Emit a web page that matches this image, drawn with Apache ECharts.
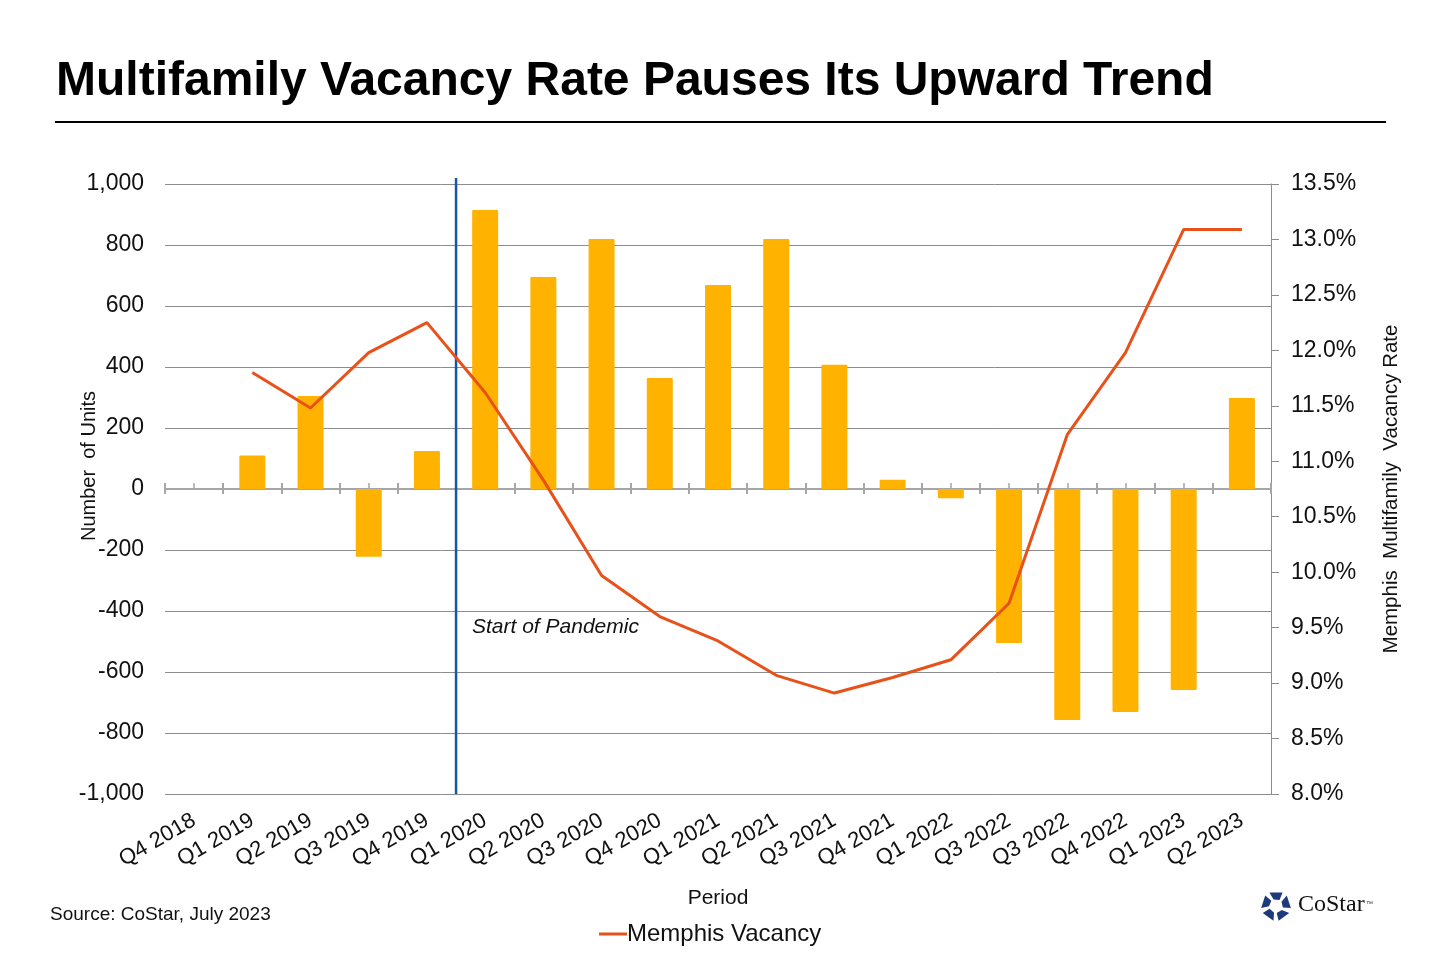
<!DOCTYPE html>
<html lang="en">
<head>
    <meta charset="UTF-8">
    <title>memphis-vacancy</title>
    <script src="https://cdn.jsdelivr.net/npm/echarts@6.0.0/dist/echarts.min.js"></script>
    <style>
        html, body { margin: 0; padding: 0; background: #fff; }
    </style>
</head>
<body>
<div id="main" style="width: 1440px;height:960px;"></div>
<script>
    // quarters as printed on the source chart (the second "Q3 2022" is in the original)
    var periods = ["Q4 2018", "Q1 2019", "Q2 2019", "Q3 2019", "Q4 2019", "Q1 2020", "Q2 2020", "Q3 2020",
        "Q4 2020", "Q1 2021", "Q2 2021", "Q3 2021", "Q4 2021", "Q1 2022", "Q3 2022", "Q3 2022",
        "Q4 2022", "Q1 2023", "Q2 2023"];
    // net absorption, units
    var units = [null, 110, 305, -222, 125, 915, 695, 820, 364, 669, 820, 407, 30, -30, -505, -757, -731, -659, 298];
    // vacancy rate, %
    var vacancy = [null, 11.80, 11.48, 11.98, 12.25, 11.62, 10.83, 9.97, 9.60, 9.38, 9.07, 8.91, 9.05, 9.21, 9.72, 11.24, 11.98, 13.09, 13.09];
    // pandemic marker sits on the boundary before Q1 2020
    var pandemicAt = 5;
    var pandemicLine = [[pandemicAt, -1000], [pandemicAt, 1020]];

    var FONT = "Liberation Sans, Arial, sans-serif";
    var GRID_H = 610;

    var chart = echarts.init(document.getElementById("main"));

    // little CoStar mark: five pieces around a centre
    var logoPieces = [];
    for (var k = 0; k < 5; k++) {
        var a = (-90 + 72 * k) * Math.PI / 180;
        var pts = [];
        [[15, -26], [15, 26], [7, 30], [7, -20]].forEach(function (p) {
            var ang = a + p[1] * Math.PI / 180;
            pts.push([1276 + p[0] * Math.cos(ang), 906 + p[0] * Math.sin(ang)]);
        });
        logoPieces.push({
            type: 'polygon',
            shape: {points: pts},
            style: {fill: '#1d3a7a'}
        });
    }

    var catAxisBase = {
        type: 'category',
        data: periods,
        gridIndex: 0,
        axisLabel: {show: false},
        splitLine: {show: false}
    };

    option = {
        backgroundColor: '#fff',
        animation: false,
        grid: {
            left: 165,
            right: 169,
            top: 184,
            bottom: 166,
            containLabel: false
        },
        legend: {
            data: ['Memphis Vacancy'],
            left: 594,
            top: 917,
            icon: 'rect',
            itemWidth: 28,
            itemHeight: 3,
            itemGap: 10,
            textStyle: {
                fontFamily: FONT,
                fontSize: 24,
                color: '#111',
                padding: [0, 0, 0, -5]
            }
        },
        graphic: [
            {
                type: 'text',
                left: 56,
                top: 58,
                style: {
                    text: 'Multifamily Vacancy Rate Pauses Its Upward Trend',
                    font: 'bold 48px ' + FONT,
                    fill: '#000'
                }
            },
            {
                type: 'line',
                shape: {x1: 55, y1: 122, x2: 1386, y2: 122},
                style: {stroke: '#000', lineWidth: 2}
            },
            {
                type: 'text',
                x: 89,
                y: 466,
                rotation: Math.PI / 2,
                style: {
                    text: 'Number  of Units',
                    font: '20px ' + FONT,
                    fill: '#111',
                    align: 'center',
                    verticalAlign: 'middle'
                }
            },
            {
                type: 'text',
                left: 472,
                top: 617,
                style: {
                    text: 'Start of Pandemic',
                    font: 'italic 21px ' + FONT,
                    fill: '#111'
                }
            },
            {
                type: 'text',
                left: 50,
                top: 905,
                style: {
                    text: 'Source: CoStar, July 2023',
                    font: '19px ' + FONT,
                    fill: '#111'
                }
            },
            {
                type: 'group',
                children: logoPieces
            },
            {
                type: 'text',
                left: 1298,
                top: 893,
                style: {
                    text: 'CoStar',
                    font: '24px Liberation Serif, DejaVu Serif, serif',
                    fill: '#111'
                }
            },
            {
                type: 'text',
                left: 1366,
                top: 901,
                style: {
                    text: '\u2122',
                    font: '7px ' + FONT,
                    fill: '#333'
                }
            }
        ],
        xAxis: [
            // labelled axis along the bottom of the plot
            Object.assign({}, catAxisBase, {
                position: 'bottom',
                axisLine: {show: false, onZero: false},
                axisTick: {show: false},
                axisLabel: {
                    show: true,
                    rotate: 30,
                    interval: 0,
                    margin: 25,
                    fontFamily: FONT,
                    fontSize: 22,
                    color: '#111'
                },
                name: 'Period',
                nameLocation: 'middle',
                nameGap: 94,
                nameTextStyle: {fontFamily: FONT, fontSize: 21, color: '#111'}
            }),
            // zero line with boundary ticks hanging down
            Object.assign({}, catAxisBase, {
                position: 'bottom',
                axisLine: {show: true, onZero: true, lineStyle: {color: '#a6a6a6', width: 2}},
                axisTick: {show: true, interval: 0, length: 5, lineStyle: {color: '#a6a6a6', width: 2}}
            }),
            // boundary ticks pointing up from the zero line
            Object.assign({}, catAxisBase, {
                position: 'bottom',
                offset: -GRID_H / 2,
                axisLine: {show: false, onZero: false},
                axisTick: {show: true, inside: true, interval: 0, length: 6, lineStyle: {color: '#a6a6a6', width: 2}}
            }),
            // small ticks at category centres
            Object.assign({}, catAxisBase, {
                position: 'bottom',
                offset: -GRID_H / 2,
                axisLine: {show: false, onZero: false},
                axisTick: {show: true, inside: true, alignWithLabel: true, interval: 0, length: 6, lineStyle: {color: '#a6a6a6', width: 1.5}}
            }),
            // hidden value axis for the pandemic marker
            {
                type: 'value',
                show: false,
                min: 0,
                max: periods.length,
                axisLine: {onZero: false},
                splitLine: {show: false}
            }
        ],
        yAxis: [
            {
                type: 'value',
                min: -1000,
                max: 1000,
                interval: 200,
                position: 'left',
                axisLine: {show: false},
                axisTick: {show: false},
                axisLabel: {
                    margin: 21,
                    fontFamily: FONT,
                    fontSize: 23,
                    color: '#111',
                    padding: [3, 0, 0, 0],
                    formatter: function (v) { return v.toLocaleString('en-US'); }
                },
                splitLine: {lineStyle: {color: '#8c8c8c', width: 1}}
            },
            {
                type: 'value',
                min: 8,
                max: 13.5,
                interval: 0.5,
                position: 'right',
                axisLine: {show: true, lineStyle: {color: '#8c8c8c', width: 1}},
                axisTick: {show: true, length: 8, lineStyle: {color: '#8c8c8c'}},
                axisLabel: {
                    margin: 20,
                    fontFamily: FONT,
                    fontSize: 23,
                    color: '#111',
                    padding: [3, 0, 0, 0],
                    formatter: function (v) { return v.toFixed(1) + '%'; }
                },
                splitLine: {show: false},
                name: 'Memphis  Multifamily  Vacancy Rate',
                nameLocation: 'middle',
                nameRotate: 90,
                nameGap: 110,
                nameTextStyle: {fontFamily: FONT, fontSize: 20.5, color: '#111'}
            }
        ],
        series: [
            {
                name: 'Net Absorption',
                type: 'bar',
                xAxisIndex: 0,
                yAxisIndex: 0,
                barWidth: 26,
                itemStyle: {color: '#ffb300', borderRadius: 1},
                data: units,
                z: 3
            },
            {
                name: 'Pandemic',
                type: 'line',
                xAxisIndex: 4,
                yAxisIndex: 0,
                clip: false,
                symbol: 'none',
                lineStyle: {color: '#1457a8', width: 2.5},
                data: pandemicLine,
                z: 4
            },
            {
                name: 'Memphis Vacancy',
                type: 'line',
                xAxisIndex: 0,
                yAxisIndex: 1,
                symbol: 'none',
                itemStyle: {color: '#e8511a'},
                lineStyle: {color: '#e8511a', width: 3},
                data: vacancy,
                z: 5
            }
        ]
    };
    chart.setOption(option);
</script>
</body>
</html>
